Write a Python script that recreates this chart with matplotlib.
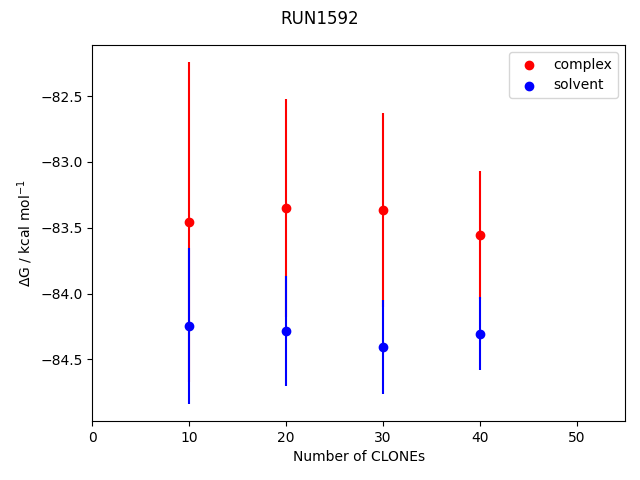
import matplotlib
matplotlib.use("Agg")
import matplotlib.pyplot as plt

clones = [10, 20, 30, 40]
complex_dg = [-83.457, -83.351, -83.366, -83.555]
complex_err = [1.215, 0.828, 0.737, 0.487]
solvent_dg = [-84.245, -84.283, -84.404, -84.305]
solvent_err = [0.593, 0.418, 0.356, 0.279]

fig, ax = plt.subplots(figsize=(6.4, 4.8), dpi=100)
ax.errorbar(clones, complex_dg, yerr=complex_err, fmt='none', ecolor='red')
ax.scatter(clones, complex_dg, color='red', label='complex')
ax.errorbar(clones, solvent_dg, yerr=solvent_err, fmt='none', ecolor='blue')
ax.scatter(clones, solvent_dg, color='blue', label='solvent')
ax.set_xlim(0, 55)
ax.set_xlabel('Number of CLONEs')
ax.set_ylabel(r'$\Delta$G / kcal mol$^{-1}$')
ax.legend(loc='upper right')
fig.suptitle('RUN1592')
fig.subplots_adjust(left=92.3/640, right=625/640, top=1-45/480, bottom=1-421/480)
fig.savefig('out.png')
